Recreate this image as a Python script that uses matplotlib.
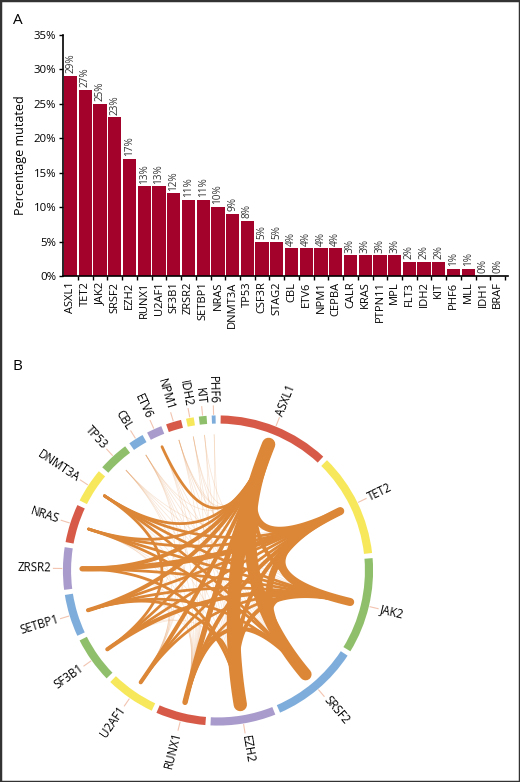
import numpy as np
import matplotlib.pyplot as plt
from matplotlib.patches import Wedge, Rectangle

plt.rcParams['font.family'] = ['Open Sans', 'DejaVu Sans']

# panel A data
genes = ["ASXL1", "TET2", "JAK2", "SRSF2", "EZH2", "RUNX1", "U2AF1", "SF3B1",
         "ZRSR2", "SETBP1", "NRAS", "DNMT3A", "TP53", "CSF3R", "STAG2", "CBL",
         "ETV6", "NPM1", "CEPBA", "CALR", "KRAS", "PTPN11", "MPL", "FLT3",
         "IDH2", "KIT", "PHF6", "MLL", "IDH1", "BRAF"]
pct = [29, 27, 25, 23, 17, 13, 13, 12, 11, 11, 10, 9, 8, 5, 5, 4, 4, 4, 4,
       3, 3, 3, 3, 2, 2, 2, 1, 1, 0, 0]

# panel B data
circle_genes = ["ASXL1", "TET2", "JAK2", "SRSF2", "EZH2", "RUNX1", "U2AF1",
                "SF3B1", "SETBP1", "ZRSR2", "NRAS", "DNMT3A", "TP53", "CBL",
                "ETV6", "NPM1", "IDH2", "KIT", "PHF6"]
ring_colors = ['#d65a47', '#f6e85a', '#8fbf6b', '#7eaddb', '#a99ccc']

link_a = ["ASXL1", "ASXL1", "TET2", "TET2", "ASXL1", "ASXL1", "ASXL1", "ASXL1",
          "ASXL1", "ASXL1", "ASXL1", "ASXL1", "ASXL1", "ASXL1", "TET2", "TET2",
          "TET2", "TET2", "TET2", "TET2", "TET2", "TET2", "JAK2", "JAK2",
          "JAK2", "JAK2", "JAK2", "JAK2", "JAK2", "SRSF2", "SRSF2", "SRSF2",
          "SRSF2", "SRSF2", "EZH2", "EZH2", "EZH2", "RUNX1", "SETBP1", "SF3B1",
          # single co-mutations
          "TP53", "TP53", "TP53", "TP53", "TP53", "TP53",
          "CBL", "CBL", "CBL", "CBL", "CBL", "CBL", "CBL",
          "ETV6", "ETV6", "ETV6", "ETV6",
          "NPM1", "NPM1", "NPM1", "NPM1", "NPM1", "NPM1",
          "IDH2", "IDH2", "IDH2", "IDH2",
          "KIT", "KIT", "KIT", "PHF6", "PHF6",
          "DNMT3A", "DNMT3A", "DNMT3A", "NRAS", "NRAS", "NRAS", "ZRSR2",
          "ZRSR2", "SETBP1", "SETBP1", "SF3B1", "SF3B1"]
link_b = ["EZH2", "SRSF2", "JAK2", "SRSF2", "TET2", "JAK2", "RUNX1", "U2AF1",
          "SETBP1", "SF3B1", "ZRSR2", "NRAS", "DNMT3A", "ETV6", "EZH2", "ZRSR2",
          "SF3B1", "SETBP1", "NRAS", "RUNX1", "U2AF1", "DNMT3A", "EZH2", "SRSF2",
          "ZRSR2", "SF3B1", "DNMT3A", "U2AF1", "NRAS", "RUNX1", "EZH2", "SETBP1",
          "NRAS", "DNMT3A", "RUNX1", "ZRSR2", "SETBP1", "JAK2", "JAK2", "DNMT3A",
          "SRSF2", "RUNX1", "U2AF1", "EZH2", "JAK2", "TET2",
          "SRSF2", "RUNX1", "EZH2", "U2AF1", "ASXL1", "JAK2", "SF3B1",
          "EZH2", "RUNX1", "SRSF2", "U2AF1",
          "ASXL1", "SRSF2", "RUNX1", "EZH2", "JAK2", "TET2",
          "SRSF2", "RUNX1", "EZH2", "ASXL1",
          "EZH2", "RUNX1", "JAK2", "RUNX1", "EZH2",
          "U2AF1", "RUNX1", "EZH2", "RUNX1", "U2AF1", "EZH2", "RUNX1",
          "U2AF1", "RUNX1", "U2AF1", "EZH2", "RUNX1"]
link_n = [10, 9, 6, 5, 5, 3, 4, 3, 3, 2, 3, 2, 2, 2, 3, 4, 2, 2, 2, 3, 2, 2,
          3, 3, 2, 3, 2, 2, 2, 3, 2, 2, 2, 2, 2, 2, 2, 2, 2, 2,
          1, 1, 1, 1, 1, 1, 1, 1, 1, 1, 1, 1, 1, 1, 1, 1, 1, 1, 1, 1, 1, 1, 1,
          1, 1, 1, 1, 1, 1, 1, 1, 1, 1, 1, 1, 1, 1, 1, 1, 1, 1, 1, 1, 1]

fig = plt.figure(figsize=(5.2, 7.82), dpi=100)

# ---- panel A: bar chart
axa = fig.add_axes([63.3 / 520, 1 - 276 / 782, 444.7 / 520, 241.3 / 782])
x = np.arange(len(genes))
axa.bar(x, pct, width=0.9, color='#a3032b')
for xi, v in zip(x, pct):
    axa.text(xi, v + 0.4, f'{v}%', rotation=90, ha='center', va='bottom',
             fontsize=7.2, color='#333333')
axa.set_xlim(-0.5, 29.7)
axa.set_ylim(0, 35)
axa.set_yticks(range(0, 36, 5))
axa.set_yticklabels([f'{v}%' for v in range(0, 36, 5)], fontsize=8.2)
axa.set_xticks(x)
axa.set_xticklabels(genes, rotation=90, fontsize=8)
axa.set_xticks(x + 0.5, minor=True)
axa.tick_params(axis='x', which='major', length=0, pad=4)
axa.tick_params(axis='x', which='minor', length=3, width=1, direction='out')
axa.tick_params(axis='y', length=3, width=1, pad=2)
axa.set_ylabel('Percentage mutated', fontsize=9, labelpad=5)
for s in ['top', 'right']:
    axa.spines[s].set_visible(False)
for s in ['left', 'bottom']:
    axa.spines[s].set_linewidth(1.2)

fig.text(13 / 520, 1 - 20 / 782, 'A', fontsize=11, va='center')
fig.text(13 / 520, 1 - 367 / 782, 'B', fontsize=11, va='center')

# ---- panel B: chord diagram
lim = 200 / 151
axb = fig.add_axes([18 / 520, 1 - 770.5 / 782, 400 / 520, 400 / 782])
axb.set_xlim(-lim, lim)
axb.set_ylim(-lim, lim)
axb.axis('off')

sizes = [pct[genes.index(g)] for g in circle_genes]
gap = 1.9
scale = (360 - gap * len(circle_genes)) / sum(sizes)
pos = 1.0
mids = {}
for i, (g, sz) in enumerate(zip(circle_genes, sizes)):
    a0, a1 = pos, pos + sz * scale
    pos = a1 + gap
    axb.add_patch(Wedge((0, 0), 1.027, 90 - a1, 90 - a0, width=0.054,
                        color=ring_colors[i % 5], lw=0))
    m = (a0 + a1) / 2
    mids[g] = m
    t = np.radians(m)
    axb.plot([1.035 * np.sin(t), 1.09 * np.sin(t)],
             [1.035 * np.cos(t), 1.09 * np.cos(t)], color='#f2c4b0', lw=0.8)
    if m < 180:
        rot, ha = 90 - m, 'left'
    else:
        rot, ha = 270 - m, 'right'
    axb.text(1.105 * np.sin(t), 1.105 * np.cos(t), g, rotation=rot, ha=ha,
             va='center', rotation_mode='anchor', fontsize=8.3)

tt = np.linspace(0, 1, 120)[:, None]
order = np.argsort(link_n, kind='stable')
for k in order:
    ta, tb = np.radians(mids[link_a[k]]), np.radians(mids[link_b[k]])
    p0 = 0.9 * np.array([np.sin(ta), np.cos(ta)])
    p2 = 0.9 * np.array([np.sin(tb), np.cos(tb)])
    curve = (1 - tt) ** 2 * p0 + tt ** 2 * p2
    n = link_n[k]
    if n == 1:
        axb.plot(curve[:, 0], curve[:, 1], color='#e8a670', alpha=0.3, lw=0.5)
    else:
        axb.plot(curve[:, 0], curve[:, 1], color='#dc8737', lw=0.95 * n + 0.1,
                 solid_capstyle='round')

fig.patches.append(Rectangle((0, 0), 1, 1, transform=fig.transFigure,
                             fill=False, lw=2.5, ec='#333333'))

fig.savefig('out.png', dpi=100)
